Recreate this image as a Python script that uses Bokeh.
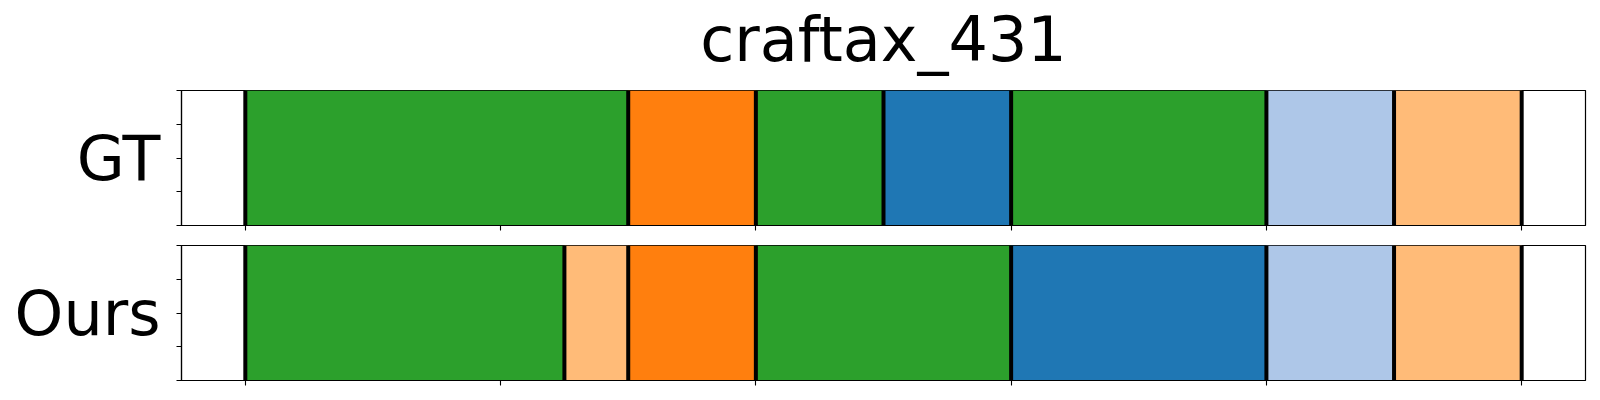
from bokeh.plotting import figure
from bokeh.models import Range1d, FixedTicker
from bokeh.layouts import column
from bokeh.core.properties import value
from bokeh.embed import file_html
from bokeh.resources import INLINE

title_text = "craftax_431"
row_labels = ["GT", "Ours"]

gt_starts = [0, 6, 8, 10, 12, 16, 18]
gt_ends = [6, 8, 10, 12, 16, 18, 20]
gt_colors = ["#2ca02c", "#ff7f0e", "#2ca02c", "#1f77b4", "#2ca02c", "#aec7e8", "#ffbb78"]

ours_starts = [0, 5, 6, 8, 12, 16, 18]
ours_ends = [5, 6, 8, 12, 16, 18, 20]
ours_colors = ["#2ca02c", "#ffbb78", "#ff7f0e", "#2ca02c", "#1f77b4", "#aec7e8", "#ffbb78"]

x_ticks = [0, 4, 8, 12, 16, 20]
y_ticks = [0, 0.25, 0.5, 0.75, 1.0]
x_min, x_max = -1, 21

FONT = "DejaVu Sans"
LEFT, RIGHT, FRAME_W = 181, 7, 1404

# title strip (its frame spans 90 px; y measured in pixels from its bottom)
TITLE_H = 90
p0 = figure(
    output_backend="svg", toolbar_location=None,
    frame_width=FRAME_W, frame_height=TITLE_H,
    min_border_left=LEFT, min_border_right=RIGHT, min_border_top=0, min_border_bottom=0,
    x_range=Range1d(x_min, x_max), y_range=Range1d(0, TITLE_H),
    x_axis_location=None, y_axis_location=None,
)
p0.grid.visible = False
p0.outline_line_color = None
p0.text(x=[(x_min + x_max) / 2], y=[51], text=[title_text],
        text_align="center", text_baseline="alphabetic",
        text_font=value(FONT), text_font_size="62px", text_color="black")


def make_panel(starts, ends, colors, label, top_border, bottom_border):
    p = figure(
        output_backend="svg", toolbar_location=None,
        frame_width=FRAME_W, frame_height=135,
        min_border_left=LEFT, min_border_right=RIGHT,
        min_border_top=top_border, min_border_bottom=bottom_border,
        x_range=Range1d(x_min, x_max), y_range=Range1d(0, 1),
    )
    p.grid.visible = False
    p.outline_line_color = "black"
    p.outline_line_width = 1.2
    p.background_fill_color = "white"
    p.border_fill_color = "white"

    p.quad(left=starts, right=ends, bottom=0, top=1, fill_color=colors, line_color=None)
    bounds = list(starts) + [ends[-1]]
    p.segment(x0=bounds, y0=[0] * len(bounds), x1=bounds, y1=[1] * len(bounds),
              line_color="black", line_width=4)

    for ax, ticks in ((p.xaxis[0], x_ticks), (p.yaxis[0], y_ticks)):
        ax.ticker = FixedTicker(ticks=ticks)
        ax.major_tick_out = 5
        ax.major_tick_in = 0
        ax.minor_tick_out = 0
        ax.minor_tick_in = 0
        ax.major_tick_line_width = 1.1
        ax.major_tick_line_color = "black"
        ax.axis_line_color = "black"
        ax.axis_line_width = 1.2
        ax.major_label_overrides = {t: "" for t in ticks}
        ax.major_label_standoff = 0

    ya = p.yaxis[0]
    ya.axis_label = label
    ya.axis_label_orientation = "horizontal"
    ya.axis_label_standoff = 16
    ya.axis_label_text_font = FONT
    ya.axis_label_text_font_size = "62px"
    ya.axis_label_text_font_style = "normal"
    ya.axis_label_text_color = "black"
    return p


p1 = make_panel(gt_starts, gt_ends, gt_colors, row_labels[0], 0, 10)
p2 = make_panel(ours_starts, ours_ends, ours_colors, row_labels[1], 10, 8)

layout = column(p0, p1, p2, spacing=0)
open("out.html", "w").write(file_html(layout, INLINE))
